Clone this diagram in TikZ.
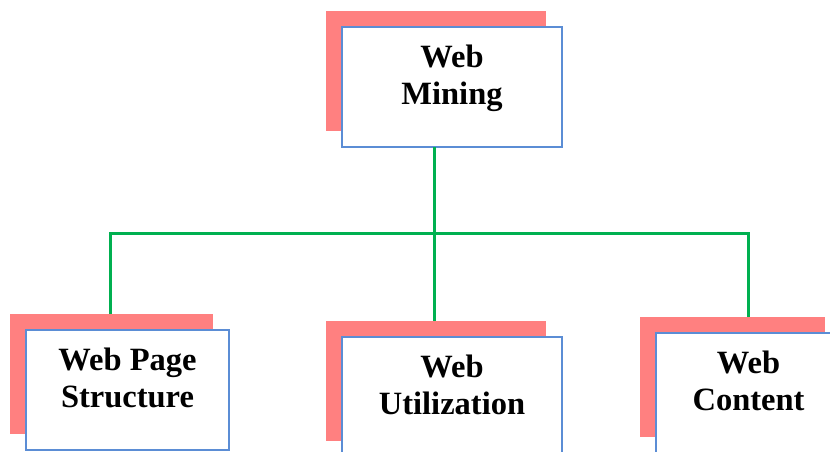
\documentclass[tikz,border=0pt]{standalone}
\usepackage{fontspec}
\setmainfont{Liberation Serif}
\usetikzlibrary{shadows}
\definecolor{linkgreen}{RGB}{0,176,80}
\definecolor{boxblue}{RGB}{91,141,213}
\definecolor{shadowpink}{RGB}{255,128,128}

\begin{document}
\begin{tikzpicture}[x=1pt, y=-1pt,
  box/.style={draw=boxblue, line width=1.5pt, fill=white, anchor=north west,
    inner sep=0pt, outer sep=0pt, align=center, text height=77pt, text depth=43pt,
    font=\fontsize{32.5}{37}\selectfont\bfseries,
    general shadow={fill=shadowpink, shadow xshift=-16pt, shadow yshift=16pt}},
  link/.style={draw=linkgreen, line width=3pt}]
\useasboundingbox (0,0) rectangle (830,452);

% Nodes
\node[box, minimum width=220pt] (wm) at (342,27) {Web\\Mining};
\node[box, minimum width=203pt] (ws) at (26,330) {Web Page\\Structure};
\node[box, minimum width=220pt] (wu) at (342,337) {Web\\Utilization};
\node[box, minimum width=185pt] (wc) at (656,333) {Web\\Content};

% Links
\coordinate (hub) at (434,233);
\draw[link] ([xshift=-18pt]wm.south) -- (hub); % mining --> bar
\draw[link] ([xshift=-17.5pt,yshift=16pt]ws.north) |- (hub) -| ([yshift=16pt]wc.north); % bar --> structure, content
\draw[link] (hub) -- ([xshift=-18pt,yshift=16pt]wu.north); % bar --> utilization

\end{tikzpicture}
\end{document}
